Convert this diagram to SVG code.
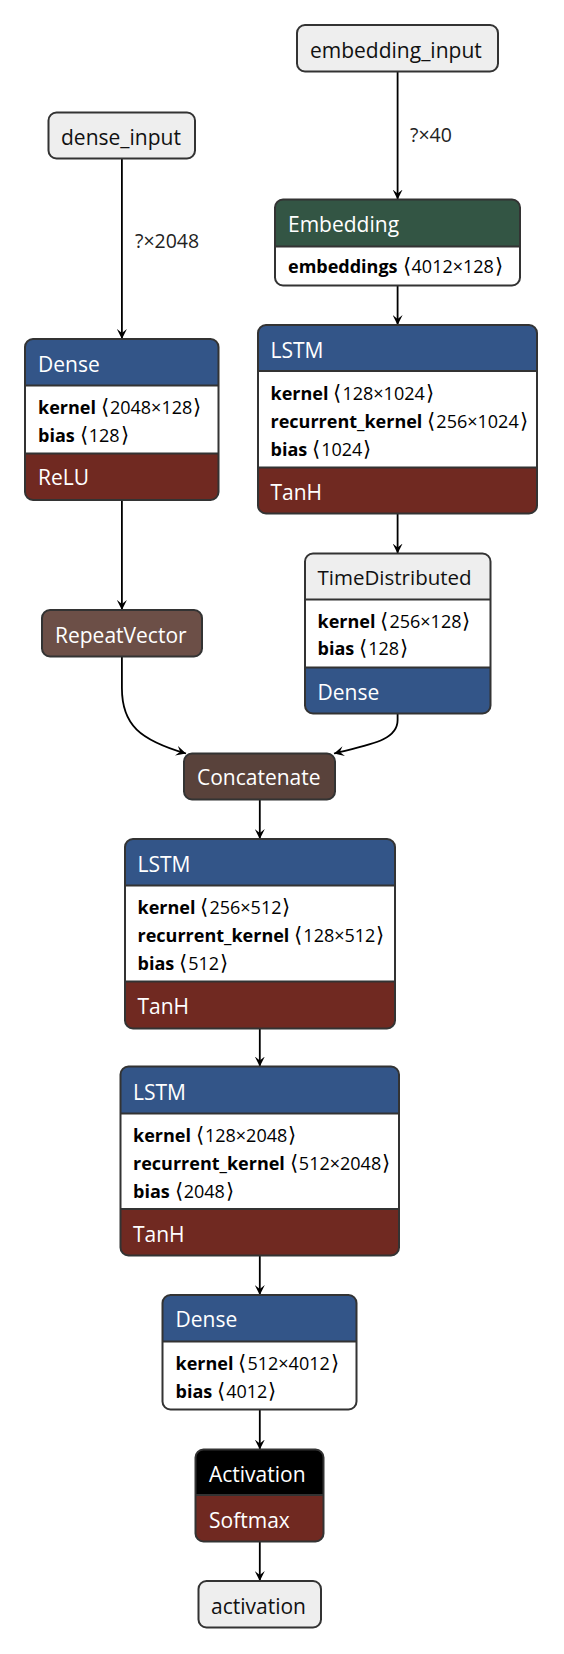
<svg xmlns="http://www.w3.org/2000/svg" width="564" height="1654" viewBox="0 0 564 1654">
<defs>
<style>
.box{stroke:#333;stroke-width:2;fill:none}
.sep{stroke:#333;stroke-width:2;fill:none}
.layer{fill:#335588}
.act{fill:#702921}
.emb{fill:#335544}
.wrap{fill:#eeeeee}
.blk{fill:#000000}
text{font-family:"Open Sans","Noto Sans",sans-serif}
.t{font-size:21px;fill:#fff}
.tb{font-size:21px;fill:#111}
.a{font-size:18px;fill:#000}
.a .n{font-weight:bold}
.br{font-family:"DejaVu Sans",sans-serif;font-size:21px;font-weight:200}
.el{font-size:19.5px;fill:#222}
.edge{stroke:#000;stroke-width:1.8;fill:none;marker-end:url(#arr)}
</style>
<marker id="arr" viewBox="0 0 10 10" refX="10" refY="5" markerWidth="10" markerHeight="10" markerUnits="userSpaceOnUse" orient="auto">
<path d="M0,0 L10,5 L0,10 L4,5 Z" fill="#000"/>
</marker>
</defs>
<rect width="564" height="1654" fill="#fff"/>

<g id="edges">
<path class="edge" d="M397.6,71.5 V199.5"/>
<text class="el" x="410" y="141.5">?×40</text>
<path class="edge" d="M121.9,158.5 V339"/>
<text class="el" x="135" y="248">?×2048</text>
<path class="edge" d="M397.6,285.5 V325"/>
<path class="edge" d="M397.6,513.5 V553.5"/>
<path class="edge" d="M121.9,500 V610"/>
<path class="edge" d="M121.9,656.5 V688 C121.9,725 140,740 186,753.5"/>
<path class="edge" d="M397.6,713.5 V720 C397.6,740 372,744 334,753.5"/>
<path class="edge" d="M259.8,799.5 V839"/>
<path class="edge" d="M259.8,1028.5 V1066.5"/>
<path class="edge" d="M259.8,1255.5 V1295"/>
<path class="edge" d="M259.8,1409.5 V1449.5"/>
<path class="edge" d="M259.8,1541.5 V1581"/>
</g>

<g id="embedding_input">
<rect class="box" x="297" y="25" width="201" height="46.5" rx="8" style="fill:#eee"/>
<text class="tb" x="310" y="58">embedding_input</text>
</g>

<g id="dense_input">
<rect class="box" x="48.5" y="112.5" width="146.5" height="46" rx="8" style="fill:#eee"/>
<text class="tb" x="61" y="145">dense_input</text>
</g>

<g id="embedding">
<rect x="275" y="199.5" width="245" height="86" rx="8" fill="#fff"/>
<path class="emb" d="M275,246.5 V207.5 A8,8 0 0 1 283,199.5 H512 A8,8 0 0 1 520,207.5 V246.5 Z"/>
<path class="sep" d="M275,246.5 H520"/>
<rect class="box" x="275" y="199.5" width="245" height="86" rx="8"/>
<text class="t" x="288" y="231.5">Embedding</text>
<text class="a" x="288" y="273"><tspan class="n">embeddings</tspan><tspan class="br" dx="5">⟨</tspan><tspan dx="1">4012×128</tspan><tspan class="br" dx="1">⟩</tspan></text>
</g>

<g id="dense_1">
<rect x="25" y="339" width="193.5" height="161" rx="8" fill="#fff"/>
<path class="layer" d="M25,385.5 V347 A8,8 0 0 1 33,339 H210.5 A8,8 0 0 1 218.5,347 V385.5 Z"/>
<path class="act" d="M25,453.5 H218.5 V492 A8,8 0 0 1 210.5,500 H33 A8,8 0 0 1 25,492 Z"/>
<path class="sep" d="M25,385.5 H218.5 M25,453.5 H218.5"/>
<rect class="box" x="25" y="339" width="193.5" height="161" rx="8"/>
<text class="t" x="38" y="371.5">Dense</text>
<text class="a" x="38" y="413.5"><tspan class="n">kernel</tspan><tspan class="br" dx="5">⟨</tspan><tspan dx="1">2048×128</tspan><tspan class="br" dx="1">⟩</tspan></text>
<text class="a" x="38" y="441.5"><tspan class="n">bias</tspan><tspan class="br" dx="5">⟨</tspan><tspan dx="1">128</tspan><tspan class="br" dx="1">⟩</tspan></text>
<text class="t" x="38" y="485">ReLU</text>
</g>

<g id="lstm_1">
<rect x="258" y="325" width="279" height="188.5" rx="8" fill="#fff"/>
<path class="layer" d="M258,371 V333 A8,8 0 0 1 266,325 H529 A8,8 0 0 1 537,333 V371 Z"/>
<path class="act" d="M258,467.5 H537 V505.5 A8,8 0 0 1 529,513.5 H266 A8,8 0 0 1 258,505.5 Z"/>
<path class="sep" d="M258,371 H537 M258,467.5 H537"/>
<rect class="box" x="258" y="325" width="279" height="188.5" rx="8"/>
<text class="t" x="270.5" y="357.5">LSTM</text>
<text class="a" x="270.5" y="399.5"><tspan class="n">kernel</tspan><tspan class="br" dx="5">⟨</tspan><tspan dx="1">128×1024</tspan><tspan class="br" dx="1">⟩</tspan></text>
<text class="a" x="270.5" y="428"><tspan class="n">recurrent_kernel</tspan><tspan class="br" dx="5">⟨</tspan><tspan dx="1">256×1024</tspan><tspan class="br" dx="1">⟩</tspan></text>
<text class="a" x="270.5" y="456"><tspan class="n">bias</tspan><tspan class="br" dx="5">⟨</tspan><tspan dx="1">1024</tspan><tspan class="br" dx="1">⟩</tspan></text>
<text class="t" x="270.5" y="499.5">TanH</text>
</g>

<g id="repeat_vector">
<rect class="box" x="42" y="610" width="160" height="46.5" rx="8" style="fill:#6c4f47"/>
<text class="t" x="55" y="642.5">RepeatVector</text>
</g>

<g id="time_distributed">
<rect x="305" y="553.5" width="185.5" height="160" rx="8" fill="#fff"/>
<path class="wrap" d="M305,599.5 V561.5 A8,8 0 0 1 313,553.5 H482.5 A8,8 0 0 1 490.5,561.5 V599.5 Z"/>
<path class="layer" d="M305,667.5 H490.5 V705.5 A8,8 0 0 1 482.5,713.5 H313 A8,8 0 0 1 305,705.5 Z"/>
<path class="sep" d="M305,599.5 H490.5 M305,667.5 H490.5"/>
<rect class="box" x="305" y="553.5" width="185.5" height="160" rx="8"/>
<text class="tb" x="317.5" y="585" style="font-size:20.5px">TimeDistributed</text>
<text class="a" x="317.5" y="627.5"><tspan class="n">kernel</tspan><tspan class="br" dx="5">⟨</tspan><tspan dx="1">256×128</tspan><tspan class="br" dx="1">⟩</tspan></text>
<text class="a" x="317.5" y="655"><tspan class="n">bias</tspan><tspan class="br" dx="5">⟨</tspan><tspan dx="1">128</tspan><tspan class="br" dx="1">⟩</tspan></text>
<text class="t" x="317.5" y="699.5">Dense</text>
</g>

<g id="concatenate">
<rect class="box" x="184" y="753.5" width="151" height="46" rx="8" style="fill:#59423b"/>
<text class="t" x="197" y="785">Concatenate</text>
</g>

<g id="lstm_2">
<rect x="125" y="839" width="270" height="189.5" rx="8" fill="#fff"/>
<path class="layer" d="M125,885.5 V847 A8,8 0 0 1 133,839 H387 A8,8 0 0 1 395,847 V885.5 Z"/>
<path class="act" d="M125,981.5 H395 V1020.5 A8,8 0 0 1 387,1028.5 H133 A8,8 0 0 1 125,1020.5 Z"/>
<path class="sep" d="M125,885.5 H395 M125,981.5 H395"/>
<rect class="box" x="125" y="839" width="270" height="189.5" rx="8"/>
<text class="t" x="137.5" y="871.5">LSTM</text>
<text class="a" x="137.5" y="913.5"><tspan class="n">kernel</tspan><tspan class="br" dx="5">⟨</tspan><tspan dx="1">256×512</tspan><tspan class="br" dx="1">⟩</tspan></text>
<text class="a" x="137.5" y="941.5"><tspan class="n">recurrent_kernel</tspan><tspan class="br" dx="5">⟨</tspan><tspan dx="1">128×512</tspan><tspan class="br" dx="1">⟩</tspan></text>
<text class="a" x="137.5" y="969.5"><tspan class="n">bias</tspan><tspan class="br" dx="5">⟨</tspan><tspan dx="1">512</tspan><tspan class="br" dx="1">⟩</tspan></text>
<text class="t" x="137.5" y="1013.5">TanH</text>
</g>

<g id="lstm_3">
<rect x="120.5" y="1066.5" width="278.5" height="189" rx="8" fill="#fff"/>
<path class="layer" d="M120.5,1113.5 V1074.5 A8,8 0 0 1 128.5,1066.5 H391 A8,8 0 0 1 399,1074.5 V1113.5 Z"/>
<path class="act" d="M120.5,1209 H399 V1247.5 A8,8 0 0 1 391,1255.5 H128.5 A8,8 0 0 1 120.5,1247.5 Z"/>
<path class="sep" d="M120.5,1113.5 H399 M120.5,1209 H399"/>
<rect class="box" x="120.5" y="1066.5" width="278.5" height="189" rx="8"/>
<text class="t" x="133" y="1100">LSTM</text>
<text class="a" x="133" y="1141.5"><tspan class="n">kernel</tspan><tspan class="br" dx="5">⟨</tspan><tspan dx="1">128×2048</tspan><tspan class="br" dx="1">⟩</tspan></text>
<text class="a" x="133" y="1169.5"><tspan class="n">recurrent_kernel</tspan><tspan class="br" dx="5">⟨</tspan><tspan dx="1">512×2048</tspan><tspan class="br" dx="1">⟩</tspan></text>
<text class="a" x="133" y="1197.5"><tspan class="n">bias</tspan><tspan class="br" dx="5">⟨</tspan><tspan dx="1">2048</tspan><tspan class="br" dx="1">⟩</tspan></text>
<text class="t" x="133" y="1241.5">TanH</text>
</g>

<g id="dense_2">
<rect x="162.5" y="1295" width="194" height="114.5" rx="8" fill="#fff"/>
<path class="layer" d="M162.5,1341.5 V1303 A8,8 0 0 1 170.5,1295 H348.5 A8,8 0 0 1 356.5,1303 V1341.5 Z"/>
<path class="sep" d="M162.5,1341.5 H356.5"/>
<rect class="box" x="162.5" y="1295" width="194" height="114.5" rx="8"/>
<text class="t" x="175.5" y="1326.5">Dense</text>
<text class="a" x="175.5" y="1370"><tspan class="n">kernel</tspan><tspan class="br" dx="5">⟨</tspan><tspan dx="1">512×4012</tspan><tspan class="br" dx="1">⟩</tspan></text>
<text class="a" x="175.5" y="1397.5"><tspan class="n">bias</tspan><tspan class="br" dx="5">⟨</tspan><tspan dx="1">4012</tspan><tspan class="br" dx="1">⟩</tspan></text>
</g>

<g id="activation_node">
<path class="blk" d="M195.5,1495 V1457.5 A8,8 0 0 1 203.5,1449.5 H315.5 A8,8 0 0 1 323.5,1457.5 V1495 Z"/>
<path class="act" d="M195.5,1495 H323.5 V1533.5 A8,8 0 0 1 315.5,1541.5 H203.5 A8,8 0 0 1 195.5,1533.5 Z"/>
<path class="sep" d="M195.5,1495 H323.5"/>
<rect class="box" x="195.5" y="1449.5" width="128" height="92" rx="8"/>
<text class="t" x="209" y="1481.5">Activation</text>
<text class="t" x="209" y="1527.5">Softmax</text>
</g>

<g id="activation_output">
<rect class="box" x="198.5" y="1581" width="122.5" height="46.5" rx="8" style="fill:#eee"/>
<text class="tb" x="211" y="1613.5">activation</text>
</g>
</svg>
